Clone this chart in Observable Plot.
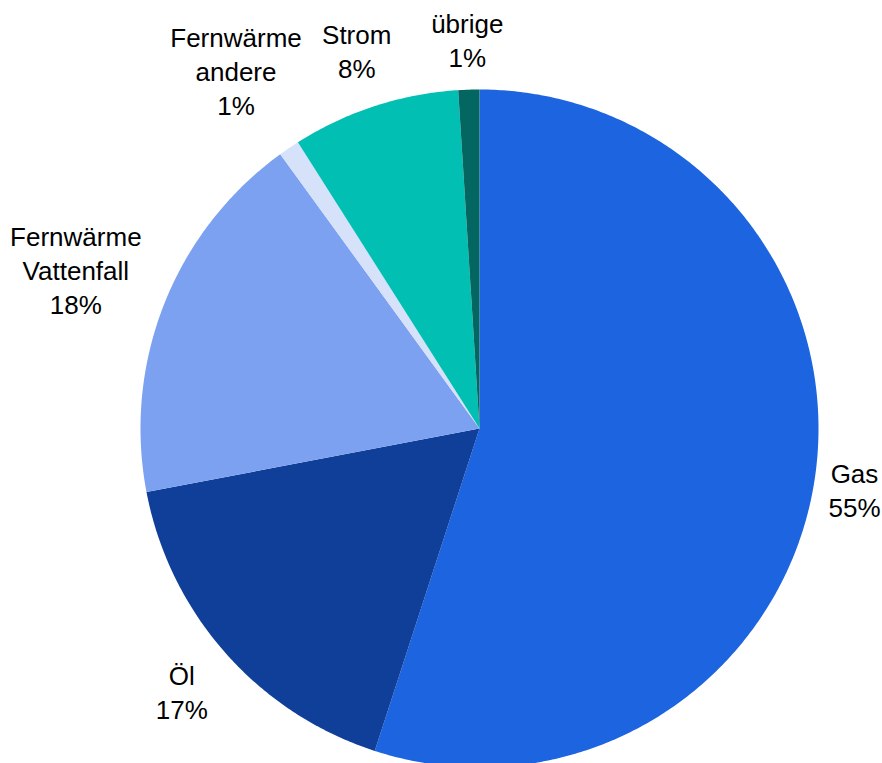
<!DOCTYPE html>
<html>
<head>
<meta charset="utf-8">
<script src="https://cdn.jsdelivr.net/npm/d3@7"></script>
<script src="https://cdn.jsdelivr.net/npm/@observablehq/plot@0.6"></script>
<style>
  html, body { margin: 0; padding: 0; background: #ffffff; }
  #chart svg { display: block; }
</style>
</head>
<body>
<div id="chart"></div>
<script>
// Energy sources for heating, share in percent (clockwise from 12 o'clock)
const categories = ["Gas", "Öl", "Fernwärme Vattenfall", "Fernwärme andere", "Strom", "übrige"];
const labelLines = [["Gas"], ["Öl"], ["Fernwärme", "Vattenfall"], ["Fernwärme", "andere"], ["Strom"], ["übrige"]];
const shares = [55, 17, 18, 1, 8, 1];
const colors = ["#1d64e0", "#0f3f98", "#7ba1f0", "#d6e1fa", "#02bfb3", "#036660"];

// Layout
const width = 882, height = 763;
const cx = 479, cy = 428, R = 339;     // pie centre and radius in pixels
const fontSize = 26, lineHeightPx = 34, labelGap = 16, edgePad = 2;
const fontFamily = "'Liberation Sans', Arial, Helvetica, sans-serif";

// Data units: radius = 1, y pointing up
const xDomain = [(0 - cx) / R, (width - cx) / R];
const yDomain = [(cy - height) / R, (cy - 0) / R];

const arcs = d3.pie().sort(null).value(d => d)(shares);

// Slice outlines as polygons (centre + arc) in data units
const slicePoints = [];
arcs.forEach((a, i) => {
  const key = categories[i];
  slicePoints.push({key, x: 0, y: 0});
  const steps = Math.max(2, Math.ceil((a.endAngle - a.startAngle) / (Math.PI / 360)));
  for (let s = 0; s <= steps; s++) {
    const t = a.startAngle + (a.endAngle - a.startAngle) * s / steps;
    slicePoints.push({key, x: Math.sin(t), y: Math.cos(t)});
  }
  slicePoints.push({key, x: 0, y: 0});
});

// Label placement: push the label box outward along the mid angle
// until its nearest point sits labelGap pixels outside the circle,
// then keep the box inside the drawing area.
const ctx = document.createElement("canvas").getContext("2d");
ctx.font = `${fontSize}px ${fontFamily}`;
const labels = arcs.map((a, i) => {
  const lines = [...labelLines[i], `${shares[i]}%`];
  const hw = d3.max(lines, l => ctx.measureText(l).width) / 2;
  const hh = lines.length * lineHeightPx / 2;
  const t = (a.startAngle + a.endAngle) / 2;
  const ux = Math.sin(t), uy = -Math.cos(t);   // screen direction
  const nearest = d => {
    const bx = d * ux, by = d * uy;
    const px = Math.max(bx - hw, Math.min(0, bx + hw));
    const py = Math.max(by - hh, Math.min(0, by + hh));
    return Math.hypot(px, py);
  };
  let lo = 0, hi = 2 * R;
  for (let k = 0; k < 60; k++) {
    const mid = (lo + hi) / 2;
    if (nearest(mid) < R + labelGap) lo = mid; else hi = mid;
  }
  const d = (lo + hi) / 2;
  let px = cx + d * ux, py = cy + d * uy;
  px = Math.max(hw + edgePad, Math.min(width - hw - edgePad, px));
  py = Math.max(hh - 6, Math.min(height - hh, py));
  return {text: lines.join("\n"), x: (px - cx) / R, y: (cy - py) / R};
});

const chart = Plot.plot({
  width, height,
  margin: 0,
  style: {background: "#ffffff", fontFamily},
  x: {domain: xDomain, axis: null},
  y: {domain: yDomain, axis: null},
  color: {domain: categories, range: colors},
  marks: [
    Plot.line(slicePoints, {x: "x", y: "y", z: "key", fill: "key", stroke: "none", curve: "linear"}),
    Plot.text(labels, {
      x: "x", y: "y", text: "text",
      fontSize, lineHeight: lineHeightPx / fontSize,
      lineAnchor: "middle", textAnchor: "middle",
      fill: "#000000", fontFamily
    })
  ]
});

document.getElementById("chart").append(chart);
</script>
</body>
</html>
